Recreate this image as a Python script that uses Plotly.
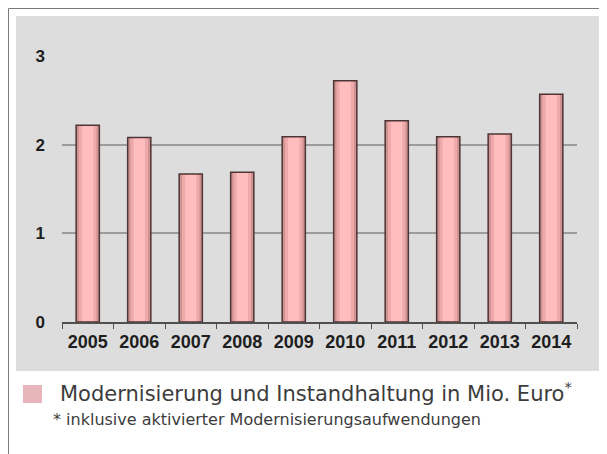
import plotly.graph_objects as go

years = ["2005", "2006", "2007", "2008", "2009", "2010", "2011", "2012", "2013", "2014"]
values = [2.22, 2.08, 1.67, 1.69, 2.09, 2.72, 2.27, 2.09, 2.12, 2.57]
legend_label = "Modernisierung und Instandhaltung in Mio. Euro<sup>*</sup>"
footnote = "* inklusive aktivierter Modernisierungsaufwendungen"

# page body has an 8px margin: figure occupies window pixels 8..607 / 8..454
OFF = 8
W, H = 607 - OFF, 454 - OFF
L, R, T, B = 62 - OFF, 607 - 577, 56 - OFF, 454 - 322
PW, PH = W - L - R, H - T - B

def px(x):
    return (x - OFF - L) / PW

def py(y):
    return (H - B - (y - OFF)) / PH

TXT = "DejaVu Sans, Liberation Sans, Arial"
BOLD = "Liberation Sans, Arial"

fig = go.Figure()
# shaded bar body (darker edges), lighter core, and outline
fig.add_trace(go.Bar(x=years, y=values, width=0.45,
                     marker=dict(color="#cf9292", line=dict(width=0)),
                     showlegend=False, hoverinfo="skip"))
fig.add_trace(go.Bar(x=years, y=values, width=0.34,
                     marker=dict(color="#eeaaaa", line=dict(width=0)),
                     showlegend=False, hoverinfo="skip"))
fig.add_trace(go.Bar(x=years, y=values, width=0.22,
                     marker=dict(color="#ffbdbd", line=dict(width=0)),
                     showlegend=False, hoverinfo="skip"))
fig.add_trace(go.Bar(x=years, y=values, width=0.45,
                     marker=dict(color="rgba(0,0,0,0)", line=dict(color="#4e3434", width=1.5)),
                     showlegend=False, hoverinfo="x+y"))

shapes = [
    dict(type="rect", xref="paper", yref="paper", x0=px(16), x1=px(607), y0=py(371), y1=py(16),
         fillcolor="#dcdddc", line=dict(width=0), layer="below"),
    dict(type="line", xref="paper", yref="paper", x0=px(8.5), x1=px(607), y0=py(8.5), y1=py(8.5),
         line=dict(color="#7a7a7a", width=1)),
    dict(type="line", xref="paper", yref="paper", x0=px(8.5), x1=px(8.5), y0=py(8.5), y1=py(454),
         line=dict(color="#7a7a7a", width=1)),
    dict(type="rect", xref="paper", yref="paper", x0=px(23), x1=px(42), y0=py(403), y1=py(385),
         fillcolor="#e8b5bb", line=dict(width=0)),
]

annotations = [
    dict(xref="paper", yref="paper", x=px(58), y=py(392), text=legend_label, showarrow=False,
         xanchor="left", yanchor="middle", font=dict(family=TXT, size=21, color="#3c3c3c")),
    dict(xref="paper", yref="paper", x=px(51), y=py(419), text=footnote, showarrow=False,
         xanchor="left", yanchor="middle", font=dict(family=TXT, size=16, color="#3c3c3c")),
]

fig.update_layout(
    width=W, height=H,
    margin=dict(l=L, r=R, t=T, b=B, pad=0),
    paper_bgcolor="white",
    plot_bgcolor="#e7e8e7",
    shapes=shapes, annotations=annotations,
    barmode="overlay",
    xaxis=dict(
        type="category", showgrid=False, showline=True, linecolor="#505050", linewidth=1.5,
        ticks="outside", tickson="boundaries", ticklen=5, tickcolor="#505050", tickwidth=1,
        tickfont=dict(family=BOLD, size=18, color="#1e1e1e", weight="bold"),
        ticklabelstandoff=3,
    ),
    yaxis=dict(
        range=[0, 3.0], tickvals=[0, 1, 2, 3], showgrid=True, gridcolor="#9c9c9c", gridwidth=2,
        zeroline=False, showline=False, ticks="",
        tickfont=dict(family=BOLD, size=17, color="#1e1e1e", weight="bold"),
        ticklabelstandoff=16,
    ),
)

fig.write_html("out.html")
